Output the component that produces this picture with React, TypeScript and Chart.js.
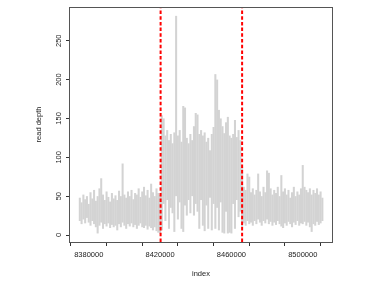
import React, { useEffect, useRef } from 'react';
import { Chart, registerables } from 'chart.js';
Chart.register(...registerables);

// genomic bins (start position + bin width in bp)
const binStart = 8375000;
const binStep = 1000;

// read depth envelope per bin (upper and lower)
const depthHigh = [
  48, 42, 52, 46, 50, 40, 55, 47, 58, 44, 50, 60, 73, 52, 45, 56, 49, 43, 54, 47,
  51, 45, 57, 50, 92, 52, 48, 56, 50, 58, 46, 54, 52, 60, 49, 56, 62, 51, 58, 48,
  66, 55, 50, 60, 54, 52,
  154, 150, 128, 135, 122, 130, 118, 132, 282, 128, 135, 120, 166, 164, 125, 118, 130, 122, 140, 157,
  155, 130, 135, 128, 132, 120, 125, 109, 130, 139, 207, 200, 161, 150, 140, 131, 145, 152, 128, 125,
  130, 148, 126, 135, 122,
  88, 62, 58, 79, 75, 55, 60, 52, 58, 79, 56, 50, 62, 55, 83, 80, 60, 52, 58, 54,
  62, 50, 77, 56, 60, 52, 58, 48, 55, 62, 50, 56, 52, 60, 90, 62, 58, 55, 60, 52,
  58, 54, 60, 52, 56, 48,
];
const depthLow = [
  18, 14, 20, 15, 22, 16, 12, 18, 14, 10, 2, 12, 16, 8, 14, 11, 15, 9, 13, 10,
  12, 6, 14, 10, 16, 12, 8, 14, 11, 15, 10, 13, 8, 12, 15, 10, 9, 12, 7, 11,
  9, 6, 10, 5, 3, 2,
  6, 40, 18, 45, 8, 35, 28, 4, 50, 20, 42, 8, 4, 38, 25, 45, 28, 50, 25, 40,
  30, 8, 45, 12, 5, 38, 8, 48, 6, 40, 8, 35, 6, 42, 3, 2, 30, 2, 3, 2,
  40, 8, 45, 23, 30,
  10, 15, 12, 18, 14, 16, 12, 18, 14, 20, 16, 12, 18, 15, 20, 14, 17, 12, 16, 13,
  18, 14, 11, 9, 15, 12, 17, 14, 10, 16, 13, 18, 12, 15, 14, 17, 12, 16, 10, 4,
  14, 12, 17, 13, 15, 18,
];

// breakpoints (red dashed lines)
const breakpoints = [8420300, 8466000];

// axis ticks
const xTicks = [8380000, 8400000, 8420000, 8440000, 8460000, 8480000, 8500000];
const xTickLabels = [8380000, 8420000, 8460000, 8500000];
const yTicks = [0, 50, 100, 150, 200, 250];
const xRange = [8369500, 8516400];
const yRange = [-9, 293.4];

const FONT = "'Liberation Sans', Arial, Helvetica, sans-serif";

const boxPlugin = {
  id: 'rbox',
  afterDatasetsDraw(chart: any) {
    const { ctx, chartArea } = chart;
    ctx.save();
    ctx.strokeStyle = '#555555';
    ctx.lineWidth = 1;
    ctx.strokeRect(
      Math.round(chartArea.left) - 0.5,
      Math.round(chartArea.top) + 0.5,
      Math.round(chartArea.right - chartArea.left) + 1,
      Math.round(chartArea.bottom - chartArea.top)
    );
    ctx.restore();
  },
};

export default function App() {
  const ref = useRef<HTMLCanvasElement>(null);

  useEffect(() => {
    document.body.style.margin = '0';
    const barData = depthHigh.map((hi, i) => ({ x: binStart + i * binStep, y: [depthLow[i], hi] }));
    const lineSets = breakpoints.map((bp) => ({
      type: 'line' as const,
      data: [
        { x: bp, y: yRange[0] },
        { x: bp, y: yRange[1] },
      ],
      borderColor: '#ff0000',
      borderWidth: 2,
      borderDash: [3.5, 2.2],
      pointRadius: 0,
      fill: false,
      order: 1,
    }));

    const axisGrid = {
      display: true,
      drawOnChartArea: false,
      drawTicks: true,
      tickLength: 4,
      color: '#333333',
      lineWidth: 1,
    };

    const chart = new Chart(ref.current as HTMLCanvasElement, {
      type: 'bar',
      data: {
        datasets: [
          {
            type: 'bar',
            data: barData as any,
            backgroundColor: '#d3d3d3',
            borderWidth: 0,
            borderSkipped: false,
            barPercentage: 1.15,
            categoryPercentage: 1,
            grouped: false,
            order: 2,
          } as any,
          ...(lineSets as any[]),
        ],
      },
      options: {
        animation: false,
        responsive: false,
        events: [],
        layout: { padding: { top: 7, right: 42, bottom: 0, left: 0 } },
        plugins: { legend: { display: false }, tooltip: { enabled: false } },
        scales: {
          x: {
            type: 'linear',
            min: xRange[0],
            max: xRange[1],
            offset: false,
            afterBuildTicks: (s: any) => {
              s.ticks = xTicks.map((v) => ({ value: v }));
            },
            afterFit: (s: any) => {
              s.height = 41;
            },
            border: { display: false },
            grid: axisGrid,
            ticks: {
              autoSkip: false,
              maxRotation: 0,
              minRotation: 0,
              padding: 4,
              color: '#222222',
              font: { family: FONT, size: 7.5 },
              callback: (v: any) => (xTickLabels.includes(Number(v)) ? String(v) : ''),
            },
            title: {
              display: true,
              text: 'index',
              color: '#222222',
              font: { family: FONT, size: 7.5 },
              padding: { top: 0, bottom: 4.5 },
            },
          },
          y: {
            type: 'linear',
            min: yRange[0],
            max: yRange[1],
            afterBuildTicks: (s: any) => {
              s.ticks = yTicks.map((v) => ({ value: v }));
            },
            afterFit: (s: any) => {
              s.width = 70;
            },
            border: { display: false },
            grid: axisGrid,
            ticks: {
              autoSkip: false,
              minRotation: 90,
              maxRotation: 90,
              crossAlign: 'center',
              padding: 1,
              color: '#222222',
              font: { family: FONT, size: 7.5 },
              callback: (v: any) => String(v),
            },
            title: {
              display: true,
              text: 'read depth',
              color: '#222222',
              font: { family: FONT, size: 7.5 },
              padding: { top: 34.5, bottom: 0 },
            },
          },
        },
      } as any,
      plugins: [boxPlugin],
    });
    return () => chart.destroy();
  }, []);

  return (
    <div style={{ position: 'fixed', left: 0, top: 0, width: 374, height: 283, background: '#fff' }}>
      <canvas ref={ref} width={374} height={283} style={{ display: 'block', width: 374, height: 283 }} />
    </div>
  );
}
